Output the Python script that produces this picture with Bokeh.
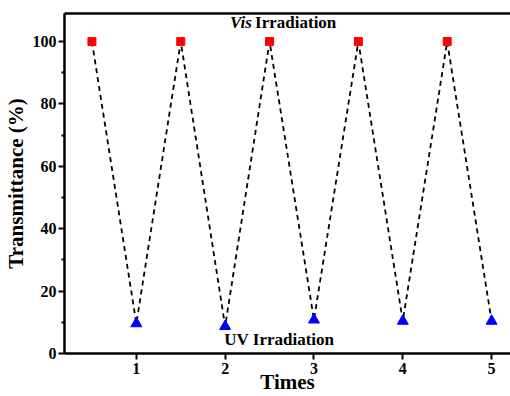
from bokeh.plotting import figure
from bokeh.models import Range1d, FixedTicker, Label, LinearAxis
from bokeh.embed import file_html
from bokeh.resources import INLINE

# data
vis_x = [0.5, 1.5, 2.5, 3.5, 4.5]
vis_y = [100, 100, 100, 100, 100]
uv_x = [1, 2, 3, 4, 5]
uv_y = [9.6, 8.7, 10.8, 10.4, 10.4]
path_x = [0.5, 1, 1.5, 2, 2.5, 3, 3.5, 4, 4.5, 5]
path_y = [100, 9.6, 100, 8.7, 100, 10.8, 100, 10.4, 100, 10.4]
x_ticks = [1, 2, 3, 4, 5]
y_ticks = [0, 20, 40, 60, 80, 100]

FONT = "Liberation Serif"

p = figure(width=510, height=396, output_backend="svg", toolbar_location=None,
           x_range=Range1d(0.191, 5.213), y_range=Range1d(0, 109),
           min_border_left=0, min_border_right=0, min_border_top=13, min_border_bottom=0)
p.outline_line_color = None
p.grid.visible = False
p.background_fill_color = "white"
p.border_fill_color = "white"

p.line(path_x, path_y, line_color="black", line_dash="5 4", line_width=1.8)
p.scatter(vis_x, vis_y, marker="square", size=8, color="#ff0000")
p.scatter(uv_x, uv_y, marker="triangle", size=11, color="#0000ff")

xa = p.xaxis[0]
xa.ticker = FixedTicker(ticks=x_ticks)
ya = p.yaxis[0]
ya.ticker = FixedTicker(ticks=y_ticks, minor_ticks=[10, 30, 50, 70, 90])
for ax in (xa, ya):
    ax.axis_line_width = 2.5
    ax.major_tick_line_width = 2
    ax.minor_tick_line_width = 2
    ax.major_tick_out = 6
    ax.major_tick_in = 0
    ax.minor_tick_in = 0
    ax.major_label_text_font = FONT
    ax.major_label_text_font_style = "bold"
    ax.major_label_text_font_size = "16px"
    ax.major_label_text_color = "black"
    ax.axis_label_text_font = FONT
    ax.axis_label_text_font_style = "bold"
    ax.axis_label_text_font_size = "21px"
    ax.axis_label_text_color = "black"
xa.minor_tick_out = 0
ya.minor_tick_out = 3
xa.axis_label = "Times"
ya.axis_label = "Transmittance (%)"
xa.axis_label_standoff = -7
ya.axis_label_standoff = 2
xa.major_label_standoff = 3
ya.major_label_standoff = 2

top = LinearAxis(ticker=FixedTicker(ticks=[]), major_label_text_font_size="0px",
                 axis_line_width=2.5, major_tick_line_color=None, minor_tick_line_color=None)
p.add_layout(top, "above")

p.add_layout(Label(x=2.30, y=106.0, text="Vis", text_align="right", text_baseline="alphabetic",
                   text_font=FONT, text_font_style="bold italic", text_font_size="17px", text_color="black"))
p.add_layout(Label(x=2.337, y=106.0, text="Irradiation", text_align="left", text_baseline="alphabetic",
                   text_font=FONT, text_font_style="bold", text_font_size="17px", text_color="black"))
p.add_layout(Label(x=2.61, y=4.4, text="UV Irradiation", text_align="center", text_baseline="alphabetic",
                   text_font=FONT, text_font_style="bold", text_font_size="17px", text_color="black"))

open("out.html", "w").write(file_html(p, INLINE))
